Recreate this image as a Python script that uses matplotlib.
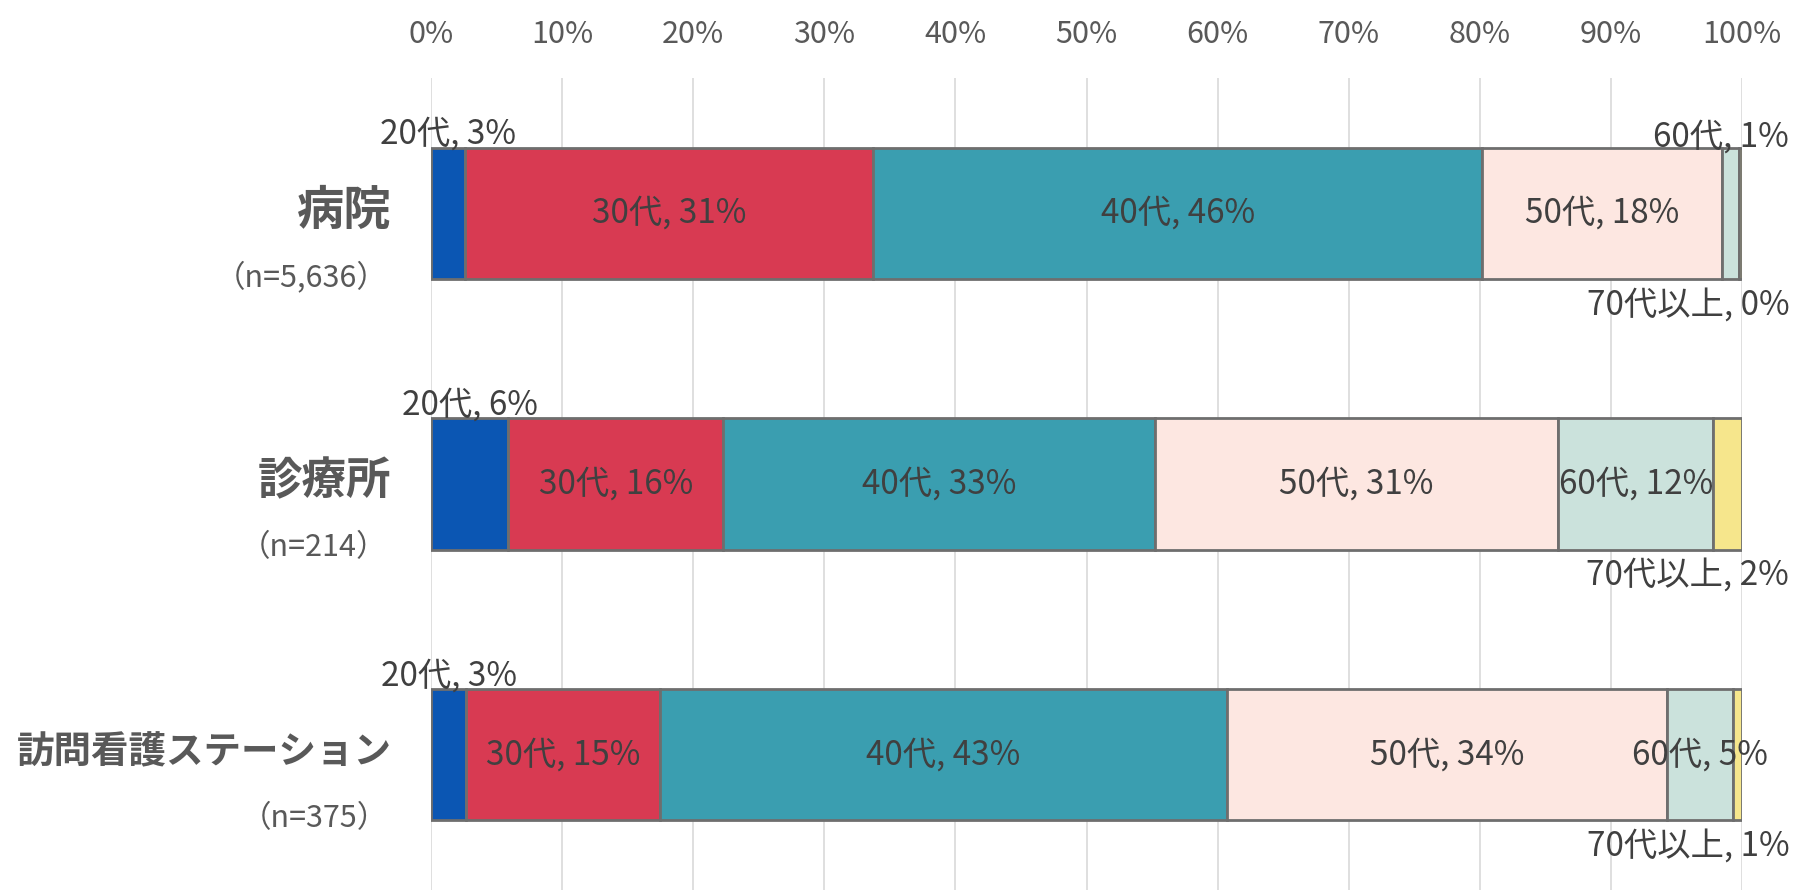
import matplotlib
matplotlib.use("Agg")
import matplotlib.pyplot as plt
import numpy as np

plt.rcParams['font.family'] = ['Noto Sans CJK JP', 'DejaVu Sans']

# data (percent of respondents by age group)
facilities = ["病院", "診療所", "訪問看護ステーション"]
sample_sizes = ["（n=5,636）", "（n=214）", "（n=375）"]
age_groups = ["20代", "30代", "40代", "50代", "60代", "70代以上"]
hospital = [2.6, 31.1, 46.5, 18.3, 1.3, 0.2]
clinic = [5.9, 16.4, 32.9, 30.8, 11.8, 2.2]
home_nursing = [2.7, 14.8, 43.2, 33.6, 5.0, 0.7]
x_ticks = [0, 10, 20, 30, 40, 50, 60, 70, 80, 90, 100]

colors = ["#0b56b3", "#d83a52", "#3a9eb0", "#fde7e1", "#cbe2dc", "#f6e68c"]
edge = "#6e6e6e"
text_col = "#404040"
bar_h = 0.485
name_sizes = [34, 32, 27]   # the long name is squeezed in the original

# where each segment label goes: in / above / above_right / below_right
placement = [
    ["above", "in", "in", "in", "above_right", "below_right"],
    ["above", "in", "in", "in", "in", "below_right"],
    ["above", "in", "in", "in", "in", "below_right"],
]

values = np.array([hospital, clinic, home_nursing])

fig = plt.figure(figsize=(17.97, 8.90), dpi=100)
ax = fig.add_axes([431 / 1797, 0.0, 1311 / 1797, 812 / 890])

y = np.arange(len(facilities))
left = np.zeros(len(facilities))
for j, age in enumerate(age_groups):
    ax.barh(y, values[:, j], left=left, height=bar_h, color=colors[j],
            edgecolor=edge, linewidth=2.0, zorder=3)
    for i in range(len(facilities)):
        v = values[i, j]
        label = f"{age}, {v:.0f}%"
        cx = left[i] + v / 2
        where = placement[i][j]
        top = y[i] - bar_h / 2
        bottom = y[i] + bar_h / 2
        if where == "in":
            ax.text(cx, y[i], label, ha="center", va="center",
                    fontsize=24, color=text_col, zorder=4)
        elif where == "above":
            ax.text(cx, top + 0.015, label, ha="center", va="bottom",
                    fontsize=24, color=text_col, zorder=4, clip_on=False)
        elif where == "above_right":
            ax.text(103.6, top + 0.025, label, ha="right", va="bottom",
                    fontsize=24, color=text_col, zorder=4, clip_on=False)
        else:
            ax.text(103.6, bottom + 0.03, label, ha="right", va="top",
                    fontsize=24, color=text_col, zorder=4, clip_on=False)
    left += values[:, j]

# category labels on the left
for i, (name, n) in enumerate(zip(facilities, sample_sizes)):
    ax.text(-3.0, y[i] - 0.01, name, ha="right", va="center", fontsize=name_sizes[i],
            fontweight="bold", color="#595959", clip_on=False)
    ax.text(-3.3, y[i] + 0.235, n, ha="right", va="center", fontsize=22,
            color="#595959", clip_on=False)

ax.set_xlim(0, 100)
ax.set_ylim(2.5, -0.5)
ax.set_xticks(x_ticks)
ax.set_xticklabels([f"{t}%" for t in x_ticks])
ax.xaxis.tick_top()
ax.tick_params(axis="x", length=0, pad=20, labelsize=22, labelcolor="#595959")
ax.set_yticks([])
ax.grid(axis="x", color="#d9d9d9", linewidth=1.2, zorder=0)
for s in ax.spines.values():
    s.set_visible(False)

fig.savefig("out.png", dpi=100, facecolor="white")
